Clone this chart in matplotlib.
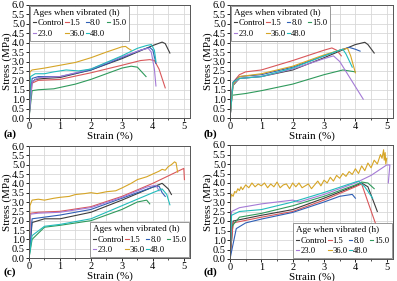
import matplotlib
matplotlib.use("Agg")
import matplotlib.pyplot as plt
from matplotlib.lines import Line2D
import numpy as np

plt.rcParams['font.family'] = ['Liberation Serif', 'DejaVu Serif']

ages = ["Control", "1.5", "8.0", "15.0", "23.0", "36.0", "48.0"]
colors = ["#3c3c3c", "#d9575a", "#2f5fb5", "#2f9a5c", "#a47ad6", "#d6a526", "#22bcbc"]

# ---- panel (a) ----  (strain %, stress MPa)
a_control = [(0,0),(0.05,1.8),(0.2,2.05),(0.5,2.1),(1.0,2.15),(2.0,2.55),(3.0,3.15),(3.5,3.5),(4.0,3.85),(4.3,4.03),(4.4,3.95),(4.55,3.45)]
a_15 = [(0,0),(0.1,1.85),(0.3,2.0),(1.0,2.05),(2.0,2.4),(3.0,2.8),(3.6,3.05),(3.9,3.1),(4.05,3.05),(4.2,2.6),(4.4,1.6)]
a_80 = [(0,0),(0.1,2.1),(0.3,2.2),(1.0,2.2),(2.0,2.55),(3.0,3.2),(3.6,3.6),(3.9,3.75),(4.0,3.6),(4.1,2.9)]
a_150 = [(0,0),(0.1,1.45),(0.3,1.5),(0.8,1.55),(1.5,1.8),(2.0,2.05),(2.5,2.35),(3.0,2.65),(3.3,2.75),(3.5,2.7),(3.78,2.2)]
a_230 = [(0,0),(0.1,1.9),(0.3,2.15),(1.0,2.2),(2.0,2.6),(3.0,3.25),(3.6,3.6),(3.85,3.7),(3.95,3.5),(4.05,2.6),(4.1,1.7)]
a_360 = [(0,0),(0.03,2.45),(0.1,2.55),(0.5,2.65),(1.0,2.8),(1.5,2.95),(2.0,3.2),(2.5,3.5),(3.0,3.78),(3.12,3.8),(3.2,3.7),(3.3,3.6)]
a_480 = [(0,0),(0.05,2.2),(0.2,2.35),(0.5,2.35),(0.8,2.45),(1.2,2.55),(1.6,2.5),(2.0,2.6),(2.5,2.95),(3.0,3.3),(3.5,3.7),(3.8,3.85),(3.95,3.9),(4.05,3.6),(4.1,3.0)]

# ---- panel (b) ----
b_control = [(0,0),(0.08,1.7),(0.3,2.1),(1.0,2.2),(2.0,2.55),(3.0,3.2),(3.5,3.55),(4.0,3.9),(4.3,4.02),(4.4,3.9),(4.6,3.45)]
b_15 = [(0,0),(0.1,1.9),(0.3,2.3),(0.5,2.45),(1.0,2.55),(2.0,3.05),(3.0,3.6),(3.25,3.72),(3.4,3.6),(3.55,3.3)]
b_80 = [(0,0),(0.1,1.9),(0.3,2.2),(1.0,2.3),(2.0,2.7),(3.0,3.3),(3.5,3.6),(3.8,3.75),(4.0,3.65),(4.15,3.55)]
b_150 = [(0,0),(0.03,1.2),(0.5,1.3),(1.0,1.45),(2.0,1.8),(3.0,2.3),(3.6,2.55),(3.8,2.5),(4.0,2.45)]
b_230 = [(0,0),(0.1,1.8),(0.3,2.1),(1.0,2.2),(2.0,2.6),(3.0,3.15),(3.3,3.3),(3.5,3.0),(3.8,2.2),(4.25,1.0)]
b_360 = [(0,0),(0.1,1.8),(0.3,2.2),(1.0,2.35),(2.0,2.75),(3.0,3.35),(3.6,3.65),(3.75,3.7),(3.85,3.3),(4.0,2.4)]
b_480 = [(0,0),(0.1,1.9),(0.3,2.1),(1.0,2.2),(2.0,2.65),(3.0,3.3),(3.5,3.6),(3.6,3.65),(3.7,3.4),(3.9,2.7)]

# ---- panel (c) ----
c_control = [(0,0),(0.1,1.9),(0.5,2.1),(1.0,2.1),(2.0,2.45),(3.0,3.1),(4.0,3.8),(4.3,4.0),(4.5,3.7),(4.6,3.4)]
c_15 = [(0,0),(0.05,2.4),(0.3,2.45),(1.0,2.5),(2.0,2.75),(3.0,3.3),(4.0,4.0),(4.5,4.4),(5.0,4.8),(5.02,4.2)]
c_80 = [(0,0),(0.1,2.1),(1.0,2.3),(2.0,2.6),(3.0,3.2),(4.0,3.8),(4.2,3.85),(4.3,3.5),(4.4,3.3)]
c_150 = [(0,0),(0.1,1.0),(0.5,1.65),(1.0,1.75),(2.0,2.0),(3.0,2.6),(3.5,3.0),(3.8,3.1),(3.9,2.9)]
c_230 = [(0,0),(0.05,2.35),(0.3,2.4),(1.0,2.45),(2.0,2.7),(3.0,3.25),(3.8,3.8),(4.1,3.9),(4.2,3.6)]
c_360 = [(0,0),(0.03,2.8),(0.1,3.1),(0.3,3.15),(0.5,3.1),(0.8,3.2),(1.0,3.25),(1.3,3.3),(1.5,3.4),(1.8,3.45),(2.0,3.5),(2.2,3.45),(2.5,3.55),(2.8,3.6),(3.0,3.75),(3.3,4.0),(3.5,4.2),(3.8,4.35),(4.0,4.5),(4.2,4.65),(4.3,4.75),(4.4,4.7),(4.5,4.9),(4.6,5.0),(4.7,5.15),(4.75,5.1),(4.8,4.6)]
c_480 = [(0,0),(0.1,1.2),(0.5,1.7),(1.0,1.8),(2.0,2.1),(3.0,2.8),(4.0,3.5),(4.3,3.7),(4.45,3.4),(4.55,2.85)]

# ---- panel (d) ----
d_control = [(0,0),(0.1,2.0),(1.0,2.3),(2.0,2.6),(3.0,3.2),(4.0,3.85),(4.2,4.0),(4.4,3.8),(4.7,2.5)]
d_15 = [(0,0),(0.1,1.9),(1.0,2.2),(2.0,2.5),(3.0,3.1),(4.0,3.8),(4.2,3.95),(4.4,3.0),(4.7,1.6)]
d_80 = [(0,0),(0.2,1.6),(0.5,1.9),(1.0,2.1),(2.0,2.45),(3.0,3.0),(3.5,3.3),(3.9,3.4),(4.0,3.2)]
d_150 = [(0,0),(0.05,1.7),(0.3,2.2),(1.0,2.4),(2.0,2.8),(3.0,3.3),(4.0,3.9),(4.2,4.05),(4.4,4.0),(4.6,3.7)]
d_230 = [(0,0),(0.05,2.5),(0.3,2.7),(1.0,2.9),(2.0,3.1),(2.2,3.0),(3.0,3.4),(4.0,4.0),(4.5,4.4),(5.0,4.95),(5.1,4.95),(5.05,4.0)]
d_360 = [(0,0),(0.02,3.2),(0.05,3.4),(0.1,3.3),(0.15,3.55),(0.2,3.5),(0.25,3.7),(0.3,3.6),(0.35,3.8),(0.4,3.65),(0.5,3.9),(0.6,3.75),(0.7,4.0),(0.8,3.8),(0.9,3.95),(1.0,3.85),(1.1,4.0),(1.2,3.75),(1.3,3.95),(1.4,3.8),(1.5,4.05),(1.6,3.75),(1.7,3.9),(1.8,3.95),(1.9,3.7),(2.0,4.0),(2.1,3.8),(2.2,4.0),(2.3,3.75),(2.4,3.85),(2.5,3.95),(2.6,3.7),(2.7,3.9),(2.8,4.1),(2.9,3.85),(3.0,4.15),(3.1,4.0),(3.2,4.3),(3.3,4.1),(3.4,4.4),(3.5,4.25),(3.6,4.5),(3.7,4.35),(3.8,4.6),(3.9,4.45),(4.0,4.75),(4.1,4.5),(4.2,4.9),(4.3,4.65),(4.4,5.05),(4.5,4.8),(4.6,5.2),(4.7,5.0),(4.8,5.5),(4.85,5.3),(4.9,5.75),(4.92,5.2),(4.95,5.6),(4.97,5.0),(5.0,5.3)]
d_480 = [(0,0),(0.05,2.3),(0.3,2.5),(1.0,2.6),(2.0,3.0),(3.0,3.5),(4.0,4.05),(4.1,4.1),(4.3,3.8),(4.55,3.2)]

panels = {
    "a": [a_control, a_15, a_80, a_150, a_230, a_360, a_480],
    "b": [b_control, b_15, b_80, b_150, b_230, b_360, b_480],
    "c": [c_control, c_15, c_80, c_150, c_230, c_360, c_480],
    "d": [d_control, d_15, d_80, d_150, d_230, d_360, d_480],
}
legend_titles = {"a": "Ages when vibrated (h)", "b": "Ages when vibrated (h)",
                 "c": "Ages when vibrated (h)", "d": "Age when vibrated (h)"}

W, H = 397, 281
fig = plt.figure(figsize=(W/100, H/100), dpi=100)

# pixel boxes: left, top, right, bottom
boxes = {"a": (29, 5, 190, 118), "b": (230, 5, 393, 118),
         "c": (29, 146, 190, 258), "d": (230, 145, 393, 259)}
label_pos = {"a": (3, 134), "b": (204, 134), "c": (3, 272), "d": (204, 272)}

# legend is filled column by column; this order gives the rows
# "Control 1.5 8.0 15.0" / "23.0 36.0 48.0"
leg_order = [0, 4, 1, 5, 2, 6, 3]

for key, curves in panels.items():
    l, t, r, b = boxes[key]
    ax = fig.add_axes([l/W, 1 - b/H, (r-l)/W, (b-t)/H])
    for pts, col in zip(curves, colors):
        arr = np.array(pts)
        ax.plot(arr[:, 0], arr[:, 1], color=col, lw=0.8)
    ax.set_xlim(0, 5.2)
    ax.set_ylim(0, 6.0)
    ax.set_xticks(np.arange(0, 6, 1))
    ax.set_xticks(np.arange(0, 5.5, 0.5), minor=True)
    ax.set_yticks(np.arange(0, 6.01, 0.5))
    ax.set_yticklabels([f"{v:.1f}" for v in np.arange(0, 6.01, 0.5)])
    ax.grid(True, which='both', color='#d8d8d8', lw=0.6)
    ax.set_axisbelow(True)
    ax.tick_params(labelsize=7.5, length=2, width=0.6, pad=1)
    ax.tick_params(which='minor', length=1.2, width=0.5)
    for s in ax.spines.values():
        s.set_color('#555555')
        s.set_linewidth(0.7)
    ax.set_xlabel("Strain (%)", fontsize=8, labelpad=0)
    ax.set_ylabel("Stress (MPa)", fontsize=8, labelpad=0)
    handles = [Line2D([], [], color=colors[i], lw=0.8) for i in leg_order]
    labels = [ages[i] for i in leg_order]
    loc = "upper left" if key in ("a", "b") else "lower right"
    leg = ax.legend(handles, labels, title=legend_titles[key], ncol=4, loc=loc,
                    fontsize=6.2, title_fontsize=6.6, handlelength=0.4,
                    handletextpad=0.1, columnspacing=0.15, labelspacing=0.3,
                    borderpad=0.3, borderaxespad=0.15, fancybox=False,
                    framealpha=1, edgecolor='#888888')
    leg.get_frame().set_linewidth(0.6)
    leg._legend_box.align = "left"
    lx, ly = label_pos[key]
    fig.text(lx/W, 1 - ly/H, f"({key})", fontsize=8, fontweight='bold', va='center', ha='left')

fig.savefig("out.png", dpi=100)
